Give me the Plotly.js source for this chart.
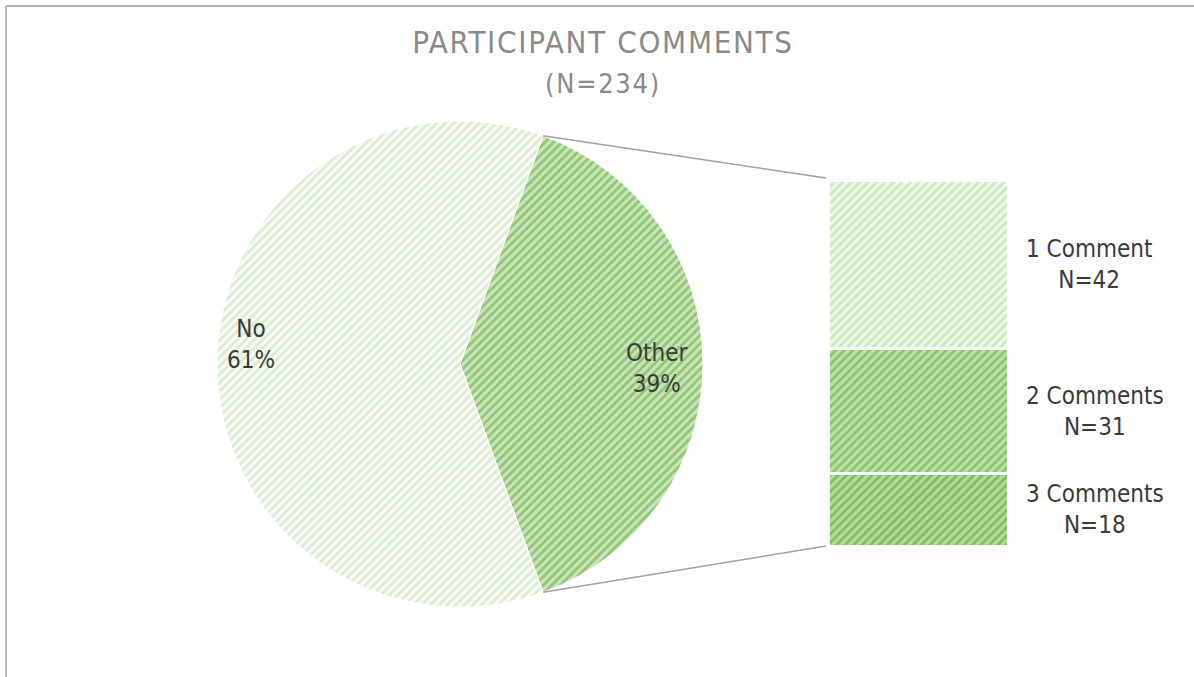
<!DOCTYPE html>
<html><head><meta charset="utf-8">
<script src="https://cdn.plot.ly/plotly-3.0.1.min.js"></script>
<style>
html,body{margin:0;padding:0;background:#fff;}
#chart{width:1194px;height:677px;}
.gtitle{letter-spacing:1.7px;}
</style>
</head><body><div id="chart"></div>
<script>
// ---- data ----
const pieLabels = ['Other', 'No'];
const pieValues = [91, 143];
const barLabels = ['1 Comment', '2 Comments', '3 Comments'];
const barValues = [42, 31, 18];
const titleMain = 'PARTICIPANT COMMENTS';

// ---- styles ----
const W = 1194, H = 677;
const pieBg = ['#c8e8b3', '#f7fbf4'];
const pieFg = ['#5a9b3f', '#bfdbae'];
const barBg = ['#eef8e9', '#bde2a6', '#b3dc99'];
const barFg = ['#a9d391', '#58a03b', '#4f9534'];
const labelFont = {family: '"Liberation Sans Narrow", "DejaVu Sans Condensed", sans-serif', size: 24, color: '#3a3a3a'};

const total = pieValues.reduce((a, b) => a + b, 0);
const otherTotal = barValues.reduce((a, b) => a + b, 0);
const otherFrac = pieValues[0] / total;
const rotation = 90 - otherFrac * 180;

// pie geometry (pixels)
const pcx = 460, pcy = 364, pr = 243;
const pieDomain = {x: [(pcx - pr) / W, (pcx + pr) / W], y: [(H - pcy - pr) / H, (H - pcy + pr) / H]};
const barX = [828 / W, 1008 / W];
const barY = [1 - 546 / H, 1 - 180 / H];

const traces = [{
  type: 'pie',
  labels: pieLabels,
  values: pieValues,
  sort: false,
  direction: 'clockwise',
  rotation: rotation,
  domain: pieDomain,
  textinfo: 'none',
  marker: {
    colors: pieBg,
    line: {color: '#ffffff', width: 1},
    pattern: {shape: '/', bgcolor: pieBg, fgcolor: pieFg, size: 6, solidity: 0.45, fillmode: 'overlay'}
  },
  showlegend: false,
  hoverinfo: 'label+value+percent'
}];

barLabels.forEach((lab, i) => {
  traces.push({
    type: 'bar',
    x: ['Other'],
    y: [barValues[i]],
    name: lab,
    xaxis: 'x', yaxis: 'y',
    marker: {
      color: barBg[i],
      line: {color: '#ffffff', width: 3},
      pattern: {shape: '/', bgcolor: barBg[i], fgcolor: barFg[i], size: 6, solidity: 0.45, fillmode: 'overlay'}
    },
    showlegend: false,
    hovertemplate: lab + ': %{y}<extra></extra>'
  });
});

const annotations = [];
// pie labels placed along each slice bisector
const labelRad = [0.81, 0.86];
const labelShift = [4, -20];
let startAng = rotation;
pieLabels.forEach((lab, i) => {
  const frac = pieValues[i] / total;
  const mid = (startAng + frac * 180) * Math.PI / 180;
  startAng += frac * 360;
  const px = pcx + labelRad[i] * pr * Math.sin(mid);
  const py = pcy - labelRad[i] * pr * Math.cos(mid);
  annotations.push({
    xref: 'paper', yref: 'paper', x: px / W, y: 1 - py / H,
    xanchor: 'center', yanchor: 'middle', yshift: -labelShift[i],
    text: lab + '<br>' + Math.round(frac * 100) + '%', showarrow: false,
    align: 'center', font: labelFont
  });
});

// bar segment labels
let cum = 0;
barLabels.forEach((lab, i) => {
  const mid = cum + barValues[i] / 2;
  cum += barValues[i];
  annotations.push({
    xref: 'paper', yref: 'y', x: barX[1], y: mid,
    xanchor: 'left', yanchor: 'middle', xshift: 16,
    text: lab + '<br>N=' + barValues[i], showarrow: false,
    align: 'center', font: labelFont
  });
});

// connector lines from pie slice edge to bar
const a1 = rotation * Math.PI / 180;
const a2 = (rotation + otherFrac * 360) * Math.PI / 180;
const p1 = [pcx + pr * Math.sin(a1), pcy - pr * Math.cos(a1)];
const p2 = [pcx + pr * Math.sin(a2), pcy - pr * Math.cos(a2)];
const shapes = [
  {type: 'line', xref: 'paper', yref: 'paper', x0: p1[0] / W, y0: 1 - p1[1] / H, x1: barX[0] - 2 / W, y1: barY[1] + 2 / H, line: {color: '#a0a0a8', width: 1.5}},
  {type: 'line', xref: 'paper', yref: 'paper', x0: p2[0] / W, y0: 1 - p2[1] / H, x1: barX[0] - 2 / W, y1: barY[0], line: {color: '#a0a0a8', width: 1.5}},
  {type: 'line', xref: 'paper', yref: 'paper', x0: 6 / W, y0: 1 - 6 / H, x1: 1, y1: 1 - 6 / H, line: {color: '#b4b4b4', width: 2}},
  {type: 'line', xref: 'paper', yref: 'paper', x0: 6 / W, y0: 1 - 6 / H, x1: 6 / W, y1: 0, line: {color: '#b4b4b4', width: 2}}
];

const layout = {
  width: W, height: H,
  margin: {l: 0, r: 0, t: 0, b: 0},
  paper_bgcolor: '#ffffff', plot_bgcolor: 'rgba(0,0,0,0)',
  title: {
    text: titleMain + '<br><span style="font-size:27px">(N=' + total + ')</span>',
    x: 0.505, xanchor: 'center', y: 1 - 53 / H, yanchor: 'top',
    font: {family: '"DejaVu Sans Condensed", "DejaVu Sans", sans-serif', size: 31, color: '#8a8a8a', weight: 200}
  },
  barmode: 'stack', bargap: 0,
  xaxis: {domain: barX, visible: false, fixedrange: true},
  yaxis: {domain: barY, range: [otherTotal, 0], visible: false, fixedrange: true},
  annotations: annotations,
  shapes: shapes,
  showlegend: false
};

Plotly.newPlot('chart', traces, layout, {displayModeBar: false, staticPlot: true});
</script>
</body></html>
